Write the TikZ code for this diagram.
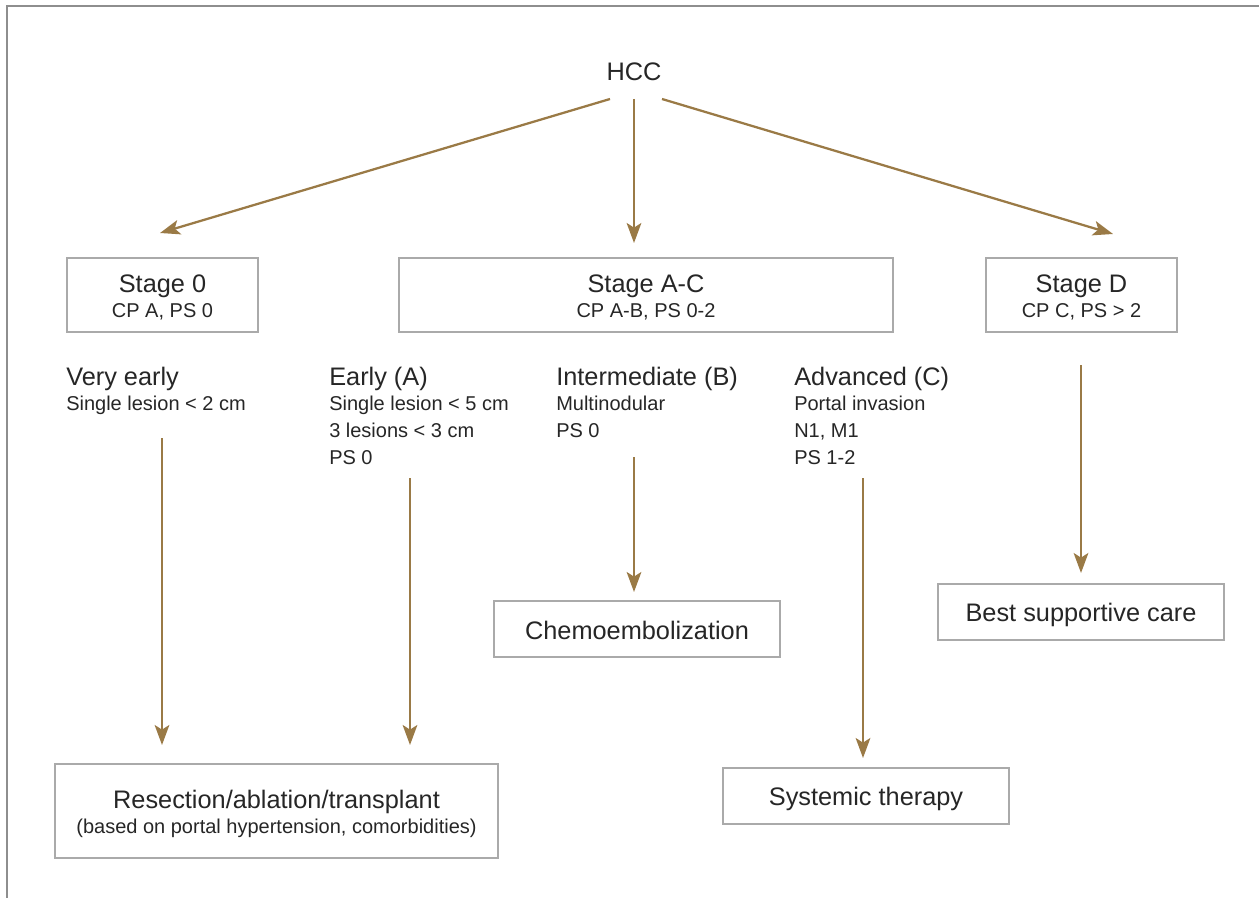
\documentclass[tikz,border=0pt]{standalone}
\usepackage{fontspec}
\setmainfont{Liberation Sans}
\usetikzlibrary{arrows.meta}
\definecolor{arr}{HTML}{9A7A46}
\definecolor{boxgray}{HTML}{AAAAAA}
\definecolor{framegray}{HTML}{8E8E8E}
\definecolor{txt}{HTML}{262626}
\begin{document}
\begin{tikzpicture}[x=0.75pt,y=-0.75pt,
  big/.style={font=\fontsize{19}{22}\selectfont, text=txt, inner sep=0pt, anchor=base},
  small/.style={font=\fontsize{15}{18}\selectfont, text=txt, inner sep=0pt, anchor=base},
  bigl/.style={big, anchor=base west},
  smalll/.style={small, anchor=base west},
  box/.style={draw=boxgray, line width=1.1pt, inner sep=0pt},
  stagebox/.style={box, minimum height=55.5pt},
  treatbox/.style={box, minimum width=214.5pt, minimum height=42pt},
  flow/.style={draw=arr, line width=1.7pt, -{Stealth[length=15pt,width=11pt,inset=3.5pt]}}
]
\useasboundingbox (0,0) rectangle (1259,898);
% frame
\draw[framegray, line width=1.5pt] (7,898) -- (7,6) -- (1259,6);

% root
\node[big] (hcc) at (634,81) {HCC};

% stage boxes
\node[stagebox, minimum width=143.25pt] (s0) at (162.5,295) {};
\node[big] (s0t) at (162.5,293) {Stage 0};
\node[small] (s0s) at (162.5,318) {CP A, PS 0};

\node[stagebox, minimum width=370.5pt] (sac) at (646,295) {};
\node[big] (sact) at (646,293) {Stage A-C};
\node[small] (sacs) at (646,318) {CP A-B, PS 0-2};

\node[stagebox, minimum width=143.25pt] (sd) at (1081.5,295) {};
\node[big] (sdt) at (1081.5,293) {Stage D};
\node[small] (sds) at (1081.5,318) {CP C, PS > 2};

% descriptions
\node[bigl] (ve1) at (66,385) {Very early};
\node[smalll] (ve2) at (66,410) {Single lesion < 2 cm};

\node[bigl] (ea1) at (329,385) {Early (A)};
\node[smalll] (ea2) at (329,410) {Single lesion < 5 cm};
\node[smalll] (ea3) at (329,437) {3 lesions < 3 cm};
\node[smalll] (ea4) at (329,464) {PS 0};

\node[bigl] (im1) at (556,385) {Intermediate (B)};
\node[smalll] (im2) at (556,410) {Multinodular};
\node[smalll] (im3) at (556,437) {PS 0};

\node[bigl] (ad1) at (794,385) {Advanced (C)};
\node[smalll] (ad2) at (794,410) {Portal invasion};
\node[smalll] (ad3) at (794,437) {N1, M1};
\node[smalll] (ad4) at (794,464) {PS 1-2};

% treatment boxes
\node[box, minimum width=332.25pt, minimum height=70.5pt] (res) at (276.5,811) {};
\node[big] (rest) at (276.5,808) {Resection/ablation/transplant};
\node[small] (ress) at (276.5,833) {(based on portal hypertension, comorbidities)};

\node[treatbox] (chemo) at (637,629) {};
\node[big] (chemot) at (637,639) {Chemoembolization};

\node[treatbox] (sys) at (866,796) {};
\node[big] (syst) at (866,805) {Systemic therapy};

\node[treatbox] (bsc) at (1081,612) {};
\node[big] (bsct) at (1081,621) {Best supportive care};

% connector end points
\coordinate (h1) at (610,99);
\coordinate (h2) at (634,99);
\coordinate (h3) at (662,99);
\coordinate (s0in) at (160,233);
\coordinate (sacin) at (634,243);
\coordinate (sdin) at (1113,234);
\coordinate (veout) at (162,438);
\coordinate (resin1) at (162,745);
\coordinate (eaout) at (410,478);
\coordinate (resin2) at (410,745);
\coordinate (imout) at (634,457);
\coordinate (chemoin) at (634,592);
\coordinate (adout) at (863,478);
\coordinate (sysin) at (863,758);
\coordinate (sdout) at (1081,365);
\coordinate (bscin) at (1081,573);

\draw[flow] (h1) -- (s0in);
\draw[flow] (h2) -- (sacin);
\draw[flow] (h3) -- (sdin);
\draw[flow] (veout) -- (resin1);
\draw[flow] (eaout) -- (resin2);
\draw[flow] (imout) -- (chemoin);
\draw[flow] (adout) -- (sysin);
\draw[flow] (sdout) -- (bscin);
\end{tikzpicture}
\end{document}
